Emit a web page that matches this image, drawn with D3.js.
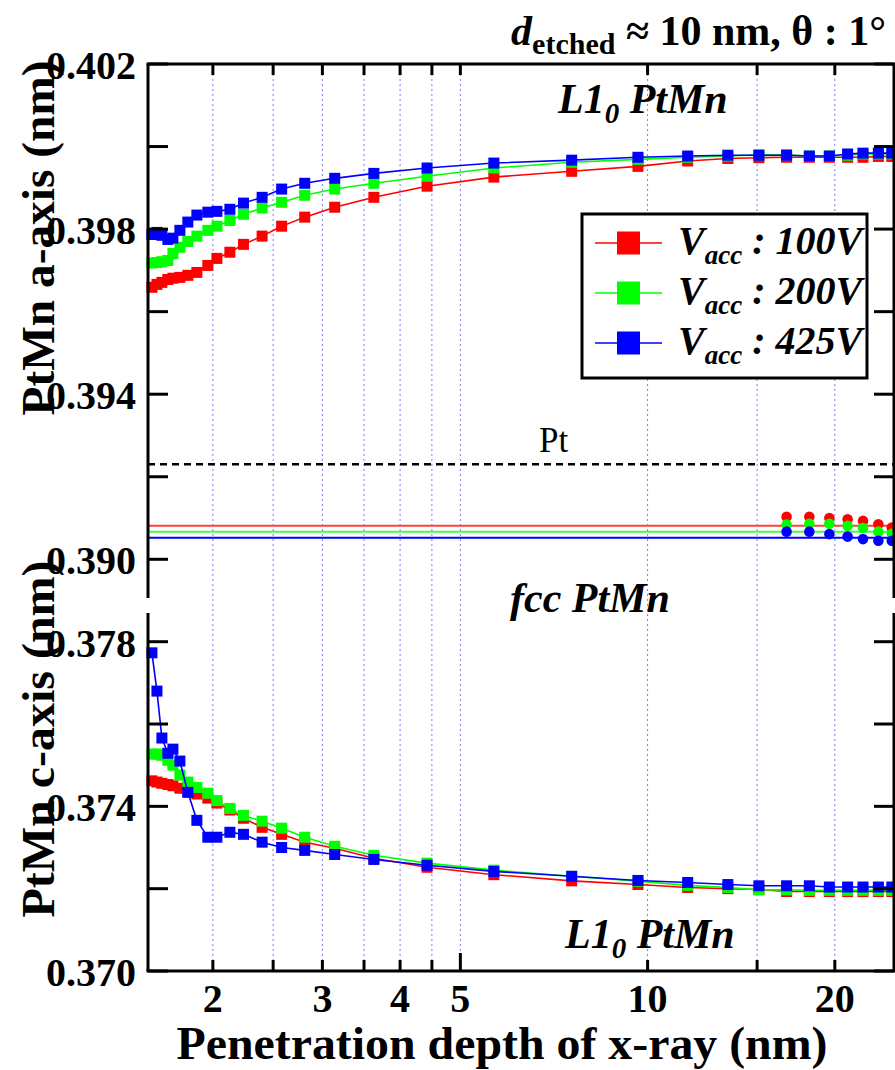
<!DOCTYPE html>
<html>
<head>
<meta charset="utf-8">
<title>PtMn lattice vs penetration depth</title>
<script src="https://d3js.org/d3.v7.min.js"></script>
<style>
  body { margin: 0; background: #fff; }
  svg { display: block; font-family: "Liberation Serif", "Times New Roman", serif; }
  .grid line { stroke: #7a7aff; stroke-width: 1; stroke-dasharray: 2,3; }
  .frame { stroke: #000; stroke-width: 3; fill: none; }
  .tick { stroke: #000; stroke-width: 3; }
  .ticklab { font-size: 40px; font-weight: bold; }
</style>
</head>
<body>
<svg id="chart" width="895" height="1070"></svg>
<script>
// penetration depth (nm) of each point
const depth = [1.596, 1.626, 1.656, 1.693, 1.725, 1.770, 1.823, 1.885, 1.963, 2.03, 2.13, 2.24, 2.40, 2.58, 2.81, 3.14, 3.63, 4.42, 5.66, 7.55, 9.65, 11.6, 13.46, 15.1, 16.73, 18.2, 19.6, 20.97, 22.2, 23.5, 24.7];

// L1_0 a-axis (nm)
const aRed = [0.39659, 0.39666, 0.39671, 0.39678, 0.39681, 0.39683, 0.39688, 0.39695, 0.39712, 0.39729, 0.39744, 0.39763, 0.39783, 0.39807, 0.39829, 0.39853, 0.39877, 0.39904, 0.39926, 0.39940, 0.39952, 0.39965, 0.39971, 0.39973, 0.39974, 0.39974, 0.39974, 0.39974, 0.39974, 0.39976, 0.39976];
const aGreen = [0.39718, 0.39719, 0.39721, 0.39724, 0.39741, 0.39756, 0.39770, 0.39783, 0.39797, 0.39807, 0.39821, 0.39836, 0.39851, 0.39865, 0.39882, 0.39897, 0.39911, 0.39928, 0.39948, 0.39962, 0.39969, 0.39974, 0.39977, 0.39980, 0.39980, 0.39977, 0.39977, 0.39979, 0.39982, 0.39982, 0.39982];
const aBlue = [0.39787, 0.39792, 0.39785, 0.39775, 0.39778, 0.39797, 0.39817, 0.39834, 0.39841, 0.39843, 0.39848, 0.39863, 0.39877, 0.39897, 0.39911, 0.39923, 0.39935, 0.39948, 0.39960, 0.39967, 0.39974, 0.39977, 0.39979, 0.39979, 0.39979, 0.39977, 0.39977, 0.39982, 0.39984, 0.39984, 0.39984];

// L1_0 c-axis (nm)
const cRed = [0.37462, 0.37459, 0.37456, 0.37453, 0.37450, 0.37444, 0.37437, 0.37430, 0.37420, 0.37408, 0.37391, 0.37371, 0.37349, 0.37332, 0.37313, 0.37298, 0.37274, 0.37252, 0.37234, 0.37219, 0.37210, 0.37203, 0.37200, 0.37198, 0.37193, 0.37193, 0.37193, 0.37193, 0.37193, 0.37193, 0.37193];
const cGreen = [0.37527, 0.37527, 0.37524, 0.37512, 0.37500, 0.37476, 0.37459, 0.37446, 0.37432, 0.37414, 0.37395, 0.37378, 0.37364, 0.37347, 0.37325, 0.37303, 0.37281, 0.37262, 0.37245, 0.37230, 0.37218, 0.37208, 0.37203, 0.37197, 0.37197, 0.37196, 0.37196, 0.37196, 0.37196, 0.37196, 0.37196];
const cBlue = [0.37773, 0.37680, 0.37566, 0.37529, 0.37539, 0.37510, 0.37434, 0.37366, 0.37325, 0.37325, 0.37337, 0.37332, 0.37313, 0.37300, 0.37293, 0.37283, 0.37271, 0.37257, 0.37242, 0.37230, 0.37220, 0.37215, 0.37210, 0.37207, 0.37207, 0.37207, 0.37204, 0.37204, 0.37204, 0.37204, 0.37204];

// fcc PtMn (circles) and its mean lines
const fccDepth = [16.73, 18.2, 19.6, 20.97, 22.2, 23.5, 24.7];
const fccRed = [0.39103, 0.39103, 0.39100, 0.39097, 0.39093, 0.39085, 0.39077];
const fccGreen = [0.39084, 0.39086, 0.39086, 0.39081, 0.39076, 0.39067, 0.39062];
const fccBlue = [0.39067, 0.39067, 0.39061, 0.39055, 0.39049, 0.39045, 0.39045];
const fccMean = [0.39081, 0.39067, 0.39052];
const ptLattice = 0.3923;

const seriesNames = ["100V", "200V", "425V"];
const colors = ["#ff0000", "#00ff00", "#0000ff"];
const meanColors = ["#ff4040", "#40ff40", "#0000ff"];

const xTicks = [2, 2.5, 3, 3.5, 4, 4.5, 5, 10, 15, 20];
const xLabels = [2, 3, 4, 5, 10, 20];
const yTicksA = [0.390, 0.392, 0.394, 0.396, 0.398, 0.400, 0.402];
const yLabelsA = [0.390, 0.394, 0.398, 0.402];
const yTicksC = [0.370, 0.372, 0.374, 0.376, 0.378];
const yLabelsC = [0.370, 0.374, 0.378];

const svg = d3.select("#chart");
const L = 148, R = 894, T = 64, B = 971;
const upBottom = 598, lowTop = 613;

const x = d3.scaleLog().domain([1.573, 24.9]).range([L, R]);
const yA = d3.scaleLinear().domain([0.390, 0.402]).range([559.3, T]);
const yC = d3.scaleLinear().domain([0.370, 0.378]).range([B, 641.7]);

// vertical grid
svg.append("g").attr("class", "grid").selectAll("line")
  .data(xTicks).join("line")
  .attr("x1", d => x(d)).attr("x2", d => x(d))
  .attr("y1", T).attr("y2", B);

// Pt reference
svg.append("line")
  .attr("x1", L).attr("x2", R)
  .attr("y1", yA(ptLattice)).attr("y2", yA(ptLattice))
  .attr("stroke", "#000").attr("stroke-width", 2.5).attr("stroke-dasharray", "7,5");
svg.append("text").attr("x", 539).attr("y", 452)
  .attr("font-size", 35).text("Pt");

// fcc mean lines
fccMean.forEach((v, i) => {
  svg.append("line")
    .attr("x1", L).attr("x2", R)
    .attr("y1", yA(v)).attr("y2", yA(v))
    .attr("stroke", meanColors[i]).attr("stroke-width", 2);
});

const plot = svg.append("g");
const aSets = [aRed, aGreen, aBlue];
const cSets = [cRed, cGreen, cBlue];
const fccSets = [fccRed, fccGreen, fccBlue];

function drawSeries(vals, y, color) {
  const pts = depth.map((d, i) => [d, vals[i]]);
  plot.append("path").datum(pts)
    .attr("fill", "none").attr("stroke", color).attr("stroke-width", 1.6)
    .attr("d", d3.line().x(d => x(d[0])).y(d => y(d[1])));
  plot.append("g").selectAll("rect").data(pts).join("rect")
    .attr("x", d => x(d[0]) - 5.5).attr("y", d => y(d[1]) - 5.5)
    .attr("width", 11).attr("height", 11).attr("fill", color);
}

colors.forEach((c, i) => {
  drawSeries(aSets[i], yA, c);
  drawSeries(cSets[i], yC, c);
  plot.append("g").selectAll("circle")
    .data(fccDepth.map((d, k) => [d, fccSets[i][k]])).join("circle")
    .attr("cx", d => x(d[0])).attr("cy", d => yA(d[1]))
    .attr("r", 5.3).attr("fill", c);
});

// frame
svg.append("line").attr("class", "frame").attr("x1", L - 1.5).attr("x2", R + 2).attr("y1", T).attr("y2", T);
svg.append("line").attr("class", "frame").attr("x1", L - 1.5).attr("x2", R + 2).attr("y1", B).attr("y2", B);
[L, R].forEach(xx => {
  svg.append("line").attr("class", "frame").attr("x1", xx).attr("x2", xx).attr("y1", T).attr("y2", upBottom);
  svg.append("line").attr("class", "frame").attr("x1", xx).attr("x2", xx).attr("y1", lowTop).attr("y2", B);
});

// x ticks (inward, top and bottom)
xTicks.forEach(d => {
  const len = d === 5 ? 18 : 11;
  svg.append("line").attr("class", "tick").attr("x1", x(d)).attr("x2", x(d)).attr("y1", B).attr("y2", B - len);
  svg.append("line").attr("class", "tick").attr("x1", x(d)).attr("x2", x(d)).attr("y1", T).attr("y2", T + 11);
});
svg.append("g").selectAll("text").data(xLabels).join("text")
  .attr("class", "ticklab").attr("text-anchor", "middle")
  .attr("x", d => x(d)).attr("y", 1012).text(d => d);

// y ticks
function yTicksDraw(ticks, labels, y) {
  ticks.forEach(v => {
    svg.append("line").attr("class", "tick").attr("x1", L).attr("x2", L + 20).attr("y1", y(v)).attr("y2", y(v));
    svg.append("line").attr("class", "tick").attr("x1", R).attr("x2", R - 20).attr("y1", y(v)).attr("y2", y(v));
  });
  svg.append("g").selectAll("text").data(labels).join("text")
    .attr("class", "ticklab").attr("text-anchor", "end")
    .attr("x", 136).attr("y", d => y(d) + 15).text(d => d3.format(".3f")(d));
}
yTicksDraw(yTicksA, yLabelsA, yA);
yTicksDraw(yTicksC, yLabelsC, yC);

// axis titles
svg.append("text").attr("text-anchor", "middle")
  .attr("x", 502).attr("y", 1059)
  .attr("font-size", 46).attr("font-weight", "bold")
  .attr("textLength", 651).attr("lengthAdjust", "spacingAndGlyphs")
  .text("Penetration depth of x-ray (nm)");
svg.append("text").attr("text-anchor", "middle")
  .attr("transform", "translate(54,238) rotate(-90)")
  .attr("font-size", 46).attr("font-weight", "bold")
  .attr("textLength", 355).attr("lengthAdjust", "spacingAndGlyphs")
  .text("PtMn a-axis (nm)");
svg.append("text").attr("text-anchor", "middle")
  .attr("transform", "translate(54,739) rotate(-90)")
  .attr("font-size", 46).attr("font-weight", "bold")
  .attr("textLength", 357).attr("lengthAdjust", "spacingAndGlyphs")
  .text("PtMn c-axis (nm)");

// title
const title = svg.append("text").attr("text-anchor", "end")
  .attr("x", 886).attr("y", 45).attr("font-weight", "bold").attr("font-size", 42);
title.append("tspan").attr("font-style", "italic").text("d");
title.append("tspan").attr("font-size", 30).attr("dy", 9).text("etched");
title.append("tspan").attr("dy", -9).text(" \u2248 10 nm, \u03b8 : 1\u00b0");

// phase annotations
function phaseLabel(x0, y0, sub) {
  const t = svg.append("text").attr("x", x0).attr("y", y0)
    .attr("font-weight", "bold").attr("font-style", "italic").attr("font-size", 42);
  if (sub) {
    t.append("tspan").text("L1");
    t.append("tspan").attr("font-size", 29).attr("dy", 10).text("0");
    t.append("tspan").attr("dy", -10).text(" PtMn");
  } else {
    t.text("fcc PtMn");
  }
}
phaseLabel(558, 113, true);
phaseLabel(510, 612, false);
phaseLabel(565, 948, true);

// legend
const lg = svg.append("g");
lg.append("rect").attr("x", 582).attr("y", 214).attr("width", 285).attr("height", 164)
  .attr("fill", "#fff").attr("stroke", "#000").attr("stroke-width", 3);
seriesNames.forEach((name, i) => {
  const cy = 243 + i * 50;
  lg.append("line").attr("x1", 595).attr("x2", 662).attr("y1", cy).attr("y2", cy)
    .attr("stroke", colors[i]).attr("stroke-width", 1.6);
  lg.append("rect").attr("x", 617).attr("y", cy - 11.5).attr("width", 23).attr("height", 23)
    .attr("fill", colors[i]);
  const t = lg.append("text").attr("x", 678).attr("y", cy + 11)
    .attr("font-weight", "bold").attr("font-style", "italic").attr("font-size", 40);
  t.append("tspan").text("V");
  t.append("tspan").attr("font-size", 27).attr("dy", 10).text("acc");
  t.append("tspan").attr("dy", -10).text(" : " + name);
});
</script>
</body>
</html>
